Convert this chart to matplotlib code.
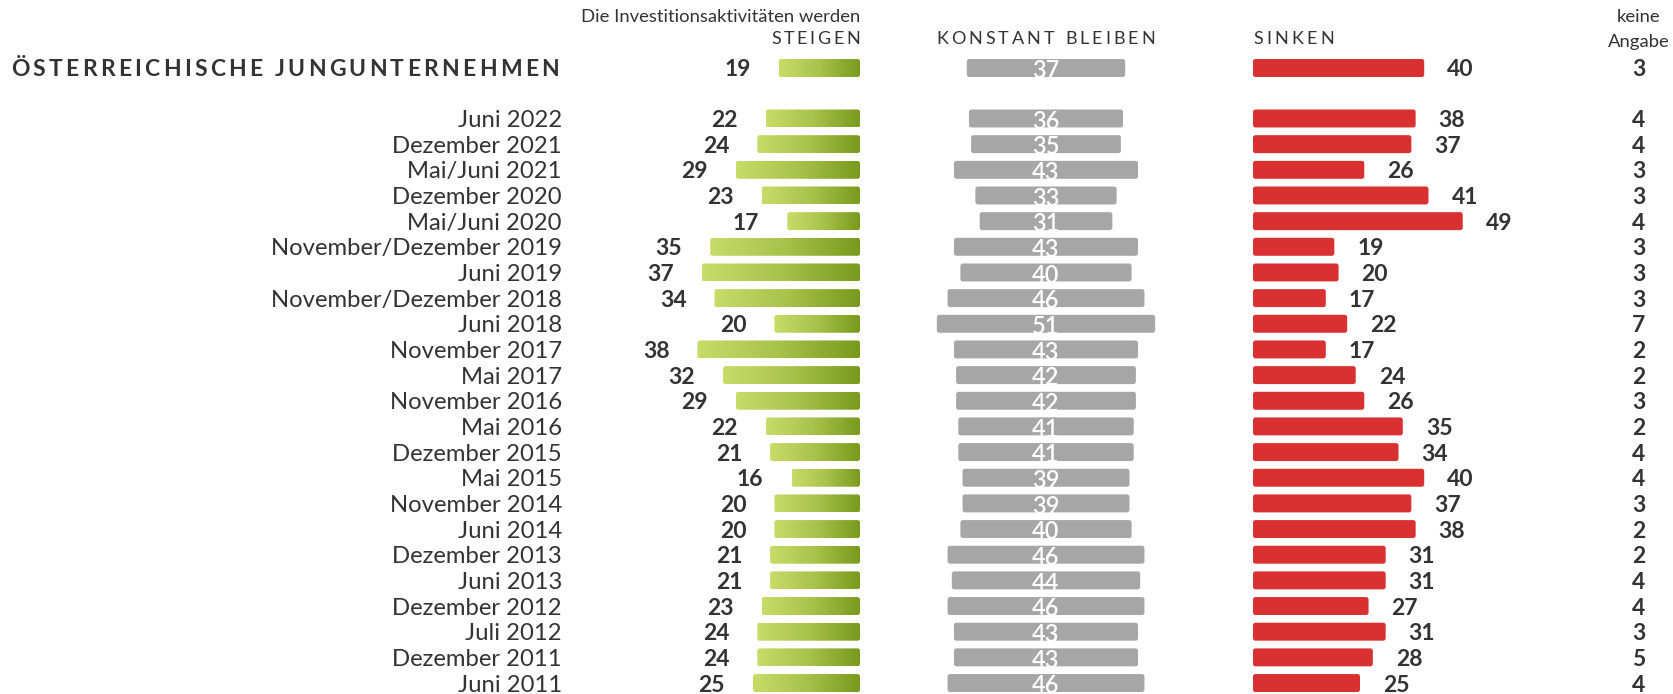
import numpy as np
import matplotlib
matplotlib.use("Agg")
import matplotlib.pyplot as plt
from matplotlib.colors import LinearSegmentedColormap
from matplotlib.patches import FancyBboxPatch

plt.rcParams['font.family'] = ['Lato', 'DejaVu Sans']

# --- Daten ---
labels = ["Juni 2022", "Dezember 2021", "Mai/Juni 2021", "Dezember 2020", "Mai/Juni 2020",
          "November/Dezember 2019", "Juni 2019", "November/Dezember 2018", "Juni 2018",
          "November 2017", "Mai 2017", "November 2016", "Mai 2016", "Dezember 2015",
          "Mai 2015", "November 2014", "Juni 2014", "Dezember 2013", "Juni 2013",
          "Dezember 2012", "Juli 2012", "Dezember 2011", "Juni 2011"]
steigen = [22, 24, 29, 23, 17, 35, 37, 34, 20, 38, 32, 29, 22, 21, 16, 20, 20, 21, 21, 23, 24, 24, 25]
konstant = [36, 35, 43, 33, 31, 43, 40, 46, 51, 43, 42, 42, 41, 41, 39, 39, 40, 46, 44, 46, 43, 43, 46]
sinken = [38, 37, 26, 41, 49, 19, 20, 17, 22, 17, 24, 26, 35, 34, 40, 37, 38, 31, 31, 27, 31, 28, 25]
keine = [4, 4, 3, 3, 4, 3, 3, 3, 7, 2, 2, 3, 2, 4, 4, 3, 2, 2, 4, 4, 3, 5, 4]

total_label = "ÖSTERREICHISCHE JUNGUNTERNEHMEN"
total_vals = {"steigen": 19, "konstant": 37, "sinken": 40, "keine": 3}

# --- Layout (Pixel) ---
W, H = 1674, 694
PX = 4.28          # Pixel pro Prozentpunkt
ROW0, STEP = 118.5, 25.66
GREEN_END, GRAY_MID, RED_START = 860, 1046, 1253
LABEL_R, KEINE_X = 562, 1639
BAR_H = 0.7
FS = 16.5
DARK = '#333333'
GRAY = '#a6a6a6'
RED = '#d93131'
green_cmap = LinearSegmentedColormap.from_list('g', ['#c8dc68', '#a8c24a', '#789a1c'])


def row(py):
    return (py - ROW0) / STEP


fig = plt.figure(figsize=(W / 100, H / 100), dpi=100)
ax = fig.add_axes([0, 0, 1, 1])
ax.axis('off')

y_total = row(68)
ys = np.arange(len(labels))
all_y = np.concatenate([[y_total], ys])
all_st = np.array([total_vals["steigen"]] + steigen)
all_ko = np.array([total_vals["konstant"]] + konstant)
all_si = np.array([total_vals["sinken"]] + sinken)
all_ke = [total_vals["keine"]] + keine


def rounded(bars, **kw):
    # Rechtecke der barh-Balken durch leicht abgerundete ersetzen
    out = []
    for p in bars.patches:
        fp = FancyBboxPatch((p.get_x(), p.get_y()), p.get_width(), p.get_height(),
                            boxstyle="round,pad=0,rounding_size=2.5",
                            mutation_aspect=1 / STEP, zorder=2, **kw)
        ax.add_patch(fp)
        p.set_visible(False)
        out.append(fp)
    return out


# grüne Balken (Verlauf)
gbars = ax.barh(all_y, all_st * PX, left=GREEN_END - all_st * PX, height=BAR_H)
grad = np.linspace(0, 1, 256).reshape(1, -1)
for p in rounded(gbars, facecolor='none', edgecolor='none'):
    bb = p.get_bbox()
    im = ax.imshow(grad, cmap=green_cmap, aspect='auto', interpolation='bilinear',
                   extent=(bb.x0, bb.x1, bb.y1, bb.y0), zorder=2)
    im.set_clip_path(p)

# graue Balken (zentriert)
rounded(ax.barh(all_y, all_ko * PX, left=GRAY_MID - all_ko * PX / 2, height=BAR_H),
        facecolor=GRAY, edgecolor='none')
# rote Balken
rounded(ax.barh(all_y, all_si * PX, left=RED_START, height=BAR_H),
        facecolor=RED, edgecolor='none')

ax.set_xlim(0, W)
ax.set_ylim(row(H), row(0))

for y, s, k, r, n in zip(all_y, all_st, all_ko, all_si, all_ke):
    ax.text(GREEN_END - s * PX - 28, y, str(s), ha='right', va='center_baseline',
            fontsize=FS, fontweight='bold', color=DARK)
    ax.text(GRAY_MID, y + 0.03, str(k), ha='center', va='center_baseline',
            fontsize=FS + 0.5, fontweight='semibold', color='white', zorder=3)
    ax.text(RED_START + r * PX + 23, y, str(r), ha='left', va='center_baseline',
            fontsize=FS, fontweight='bold', color=DARK)
    ax.text(KEINE_X, y, str(n), ha='center', va='center_baseline',
            fontsize=FS, fontweight='bold', color=DARK)

for y, lab in zip(ys, labels):
    ax.text(LABEL_R, y, lab, ha='right', va='center_baseline', fontsize=17.2, color=DARK)

renderer = fig.canvas.get_renderer()


def text_w(s, **kw):
    t = ax.text(0, 0, s, **kw)
    w = t.get_window_extent(renderer).width
    t.remove()
    return w


def tracked(x0, x1, y, s, **kw):
    # Text mit Sperrung zwischen x0 und x1
    ref = text_w('I', **kw)
    pos = [0.0] + [text_w(s[:i] + 'I', **kw) - ref for i in range(1, len(s))]
    natural = pos[-1] + text_w(s[-1], **kw)
    track = (x1 - x0 - natural) / (len(s) - 1)
    for i, ch in enumerate(s):
        if ch == ' ':
            continue
        ax.text(x0 + pos[i] + track * i, y, ch, ha='left', va='center_baseline', **kw)


tracked(11, 559, y_total, total_label, fontsize=16.5, fontweight='bold', color=DARK)
tracked(771, 860, row(38), "STEIGEN", fontsize=13, color=DARK)
tracked(936, 1155, row(38), "KONSTANT BLEIBEN", fontsize=13, color=DARK)
tracked(1253, 1334, row(38), "SINKEN", fontsize=13, color=DARK)

ax.text(GREEN_END, row(16), "Die Investitionsaktivitäten werden", ha='right',
        va='center_baseline', fontsize=13.3, color=DARK)
ax.text(KEINE_X, row(16), "keine", ha='center', va='center_baseline', fontsize=13.3, color=DARK)
ax.text(KEINE_X, row(40), "Angabe", ha='center', va='center_baseline', fontsize=13.3, color=DARK)

fig.savefig('out.png', dpi=100)
